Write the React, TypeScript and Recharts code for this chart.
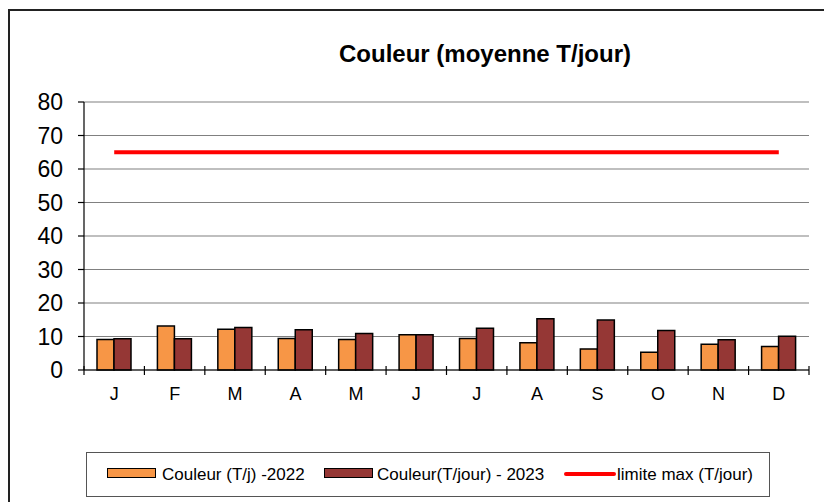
import React from 'react';
import { ComposedChart, Bar, Line, XAxis, YAxis, CartesianGrid } from 'recharts';

const months = ['J', 'F', 'M', 'A', 'M', 'J', 'J', 'A', 'S', 'O', 'N', 'D'];
const couleur2022 = [9.1, 13.1, 12.2, 9.4, 9.1, 10.5, 9.4, 8.1, 6.3, 5.3, 7.7, 7.0];
const couleur2023 = [9.3, 9.3, 12.7, 12.0, 10.9, 10.5, 12.5, 15.3, 14.9, 11.8, 9.0, 10.1];
const limiteMax = [65, 65, 65, 65, 65, 65, 65, 65, 65, 65, 65, 65];
const yTicks = [0, 10, 20, 30, 40, 50, 60, 70, 80];

const data = months.map((m, i) => ({
  month: m,
  c2022: couleur2022[i],
  c2023: couleur2023[i],
  limit: limiteMax[i],
}));

const FONT = '"Liberation Sans", Arial, sans-serif';
const CHART_W = 824;
const CHART_H = 494;
const MARGIN = { top: 94, right: 23, left: 0, bottom: 102 };
const Y_W = 76;
const PLOT_W = CHART_W - MARGIN.left - MARGIN.right - Y_W;
const STEP = PLOT_W / months.length;

const ORANGE = '#F79646';
const DARKRED = '#953735';

const MonthTick = (props: any) => {
  const { x, y, payload, index } = props;
  const axisY = y - 8;
  const lx = x - STEP / 2;
  const rx = x + STEP / 2;
  return (
    <g>
      <line x1={lx} x2={lx} y1={axisY - 4} y2={axisY + 5} stroke="#000" strokeWidth={1.2} />
      {index === months.length - 1 && (
        <line x1={rx} x2={rx} y1={axisY - 4} y2={axisY + 5} stroke="#000" strokeWidth={1.2} />
      )}
      <text x={x} y={y + 22} textAnchor="middle" fontSize={18} fill="#000" fontFamily={FONT}>
        {payload.value}
      </text>
    </g>
  );
};

export default function App() {
  return (
    <div style={{ position: 'relative', width: CHART_W, height: CHART_H, fontFamily: FONT }}>
      <div
        style={{
          position: 'absolute',
          left: 0,
          top: 1,
          width: 820,
          height: 500,
          borderLeft: '2px solid #222',
          borderTop: '2px solid #222',
          borderRight: '2px solid #222',
          boxSizing: 'border-box',
        }}
      />
      <div
        style={{
          position: 'absolute',
          left: 227,
          top: 32,
          width: 500,
          textAlign: 'center',
          fontSize: 24,
          fontWeight: 'bold',
          lineHeight: '28px',
          color: '#000',
          whiteSpace: 'nowrap',
        }}
      >
        Couleur (moyenne T/jour)
      </div>
      <div style={{ position: 'absolute', left: 0, top: 0 }}>
        <ComposedChart
          width={CHART_W}
          height={CHART_H}
          data={data}
          margin={MARGIN}
          barGap={0}
        >
          <CartesianGrid vertical={false} stroke="#808080" strokeWidth={1.2} yAxisId="left" />
          <XAxis
            dataKey="month"
            interval={0}
            height={30}
            tickLine={false}
            tickSize={6}
            tickMargin={2}
            axisLine={{ stroke: '#000', strokeWidth: 1.2 }}
            tick={<MonthTick />}
          />
          <YAxis
            yAxisId="left"
            width={Y_W}
            domain={[0, 80]}
            ticks={yTicks}
            interval={0}
            tickSize={6}
            tickMargin={15}
            axisLine={{ stroke: '#000', strokeWidth: 1.2 }}
            tickLine={{ stroke: '#000', strokeWidth: 1.2 }}
            tick={{ fontSize: 23, fill: '#000', fontFamily: FONT }}
          />
          <YAxis
            yAxisId="right"
            orientation="right"
            width={0}
            domain={[0, 80]}
            tick={false}
            tickLine={false}
            axisLine={{ stroke: '#808080', strokeWidth: 1.5 }}
          />
          <Bar
            yAxisId="left"
            dataKey="c2022"
            fill={ORANGE}
            stroke="#000"
            strokeWidth={1.5}
            barSize={17}
            isAnimationActive={false}
          />
          <Bar
            yAxisId="left"
            dataKey="c2023"
            fill={DARKRED}
            stroke="#000"
            strokeWidth={1.5}
            barSize={17}
            isAnimationActive={false}
          />
          <Line
            yAxisId="left"
            dataKey="limit"
            stroke="#FF0000"
            strokeWidth={4}
            dot={false}
            activeDot={false}
            isAnimationActive={false}
          />
        </ComposedChart>
      </div>
      <div
        style={{
          position: 'absolute',
          left: 78,
          top: 444,
          width: 684,
          height: 45,
          border: '1.5px solid #555',
          boxSizing: 'border-box',
          fontSize: 17,
          color: '#000',
        }}
      >
        <div style={{ position: 'absolute', left: 20, top: 15, width: 49, height: 10, background: ORANGE, border: '1.5px solid #000', boxSizing: 'border-box' }} />
        <div style={{ position: 'absolute', left: 75, top: 12, lineHeight: '20px', whiteSpace: 'nowrap' }}>Couleur (T/j) -2022</div>
        <div style={{ position: 'absolute', left: 237, top: 15, width: 49, height: 10, background: DARKRED, border: '1.5px solid #000', boxSizing: 'border-box' }} />
        <div style={{ position: 'absolute', left: 290, top: 12, lineHeight: '20px', whiteSpace: 'nowrap' }}>Couleur(T/jour) - 2023</div>
        <div style={{ position: 'absolute', left: 477, top: 19, width: 52, height: 4, background: '#FF0000', borderRadius: 2 }} />
        <div style={{ position: 'absolute', left: 530, top: 12, lineHeight: '20px', whiteSpace: 'nowrap' }}>limite max (T/jour)</div>
      </div>
    </div>
  );
}
